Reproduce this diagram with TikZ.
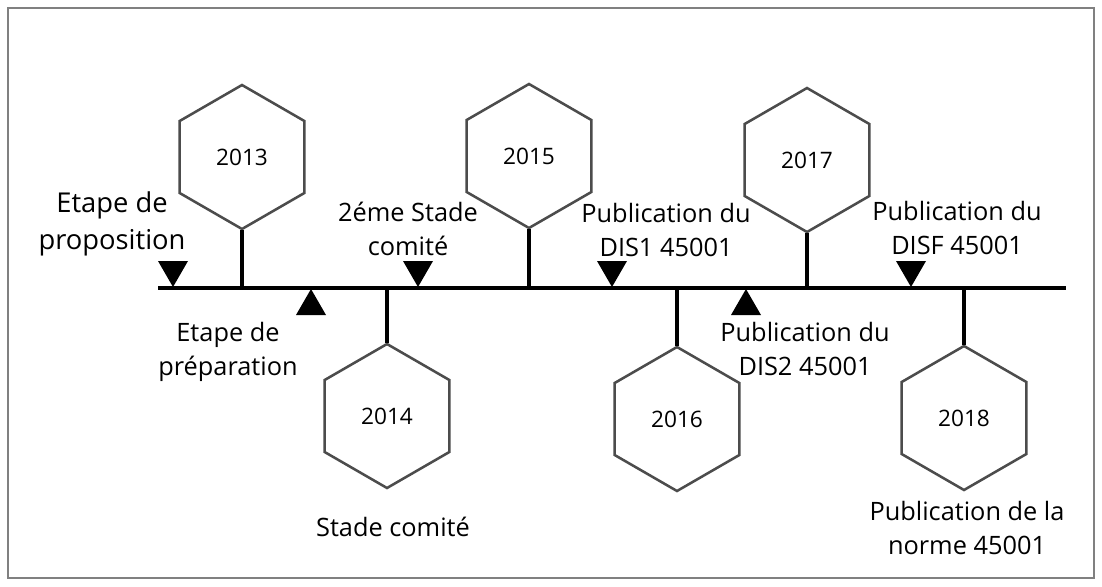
\documentclass[tikz,border=0pt]{standalone}
\usepackage{fontspec}
\setmainfont{Open Sans}
\usetikzlibrary{shapes.geometric}
\tikzset{
  hexa/.style={regular polygon, regular polygon sides=6, shape border rotate=30,
    minimum size=108pt, inner sep=0pt, draw=black!70, line width=1.9pt, fill=white,
    font=\fontsize{17}{20}\selectfont},
  stem/.style={line width=2.3pt, black},
  axis/.style={line width=2.6pt, black},
  lbl/.style={align=center, inner sep=0pt, font=\fontsize{19}{26}\selectfont},
  biglbl/.style={align=center, inner sep=0pt, font=\fontsize{20.5}{27.5}\selectfont},
  tri/.style={fill=black}
}
\begin{document}
\begin{tikzpicture}[x=0.75pt, y=-0.75pt]
  \useasboundingbox (0,0) rectangle (1102,586);
  % outer frame
  \draw[black!50, line width=0.9pt] (8,8) rectangle (1094,578);

  % main axis
  \coordinate (L) at (158,288);
  \coordinate (R) at (1066,288);
  \draw[axis] (L) -- (R);

  % year hexagons
  \node[hexa] (h13) at (242,157) {2013};
  \node[hexa] (h14) at (387,416) {2014};
  \node[hexa] (h15) at (529,156) {2015};
  \node[hexa] (h16) at (677,419) {2016};
  \node[hexa] (h17) at (807,160) {2017};
  \node[hexa] (h18) at (964,418) {2018};

  % stems joining hexagons to the axis
  \foreach \h in {h13,h15,h17}{
    \draw[stem] (\h.south) -- (\h.south |- L);
  }
  \foreach \h in {h14,h16,h18}{
    \draw[stem] (\h.north) -- (\h.north |- L);
  }

  % milestone markers above the axis (pointing down)
  \foreach \x in {173,418,612,911}{
    \fill[tri] (\x-15,261) -- (\x+15,261) -- (\x,287) -- cycle;
  }
  % milestone markers below the axis (pointing up)
  \foreach \x in {311,746}{
    \fill[tri] (\x-15,315) -- (\x+15,315) -- (\x,289) -- cycle;
  }

  % milestone labels
  \node[biglbl] (t1) at (112,224) {Etape de\\proposition};
  \node[lbl] (t2) at (228,352) {Etape de\\préparation};
  \node[lbl] (t3) at (408,229) {2éme Stade\\comité};
  \node[lbl] (t4) at (393,527) {Stade comité};
  \node[lbl] (t5) at (666,230) {Publication du\\DIS1 45001};
  \node[lbl] (t6) at (805,349) {Publication du\\DIS2 45001};
  \node[lbl] (t7) at (957,228) {Publication du\\DISF 45001};
  \node[lbl] (t8) at (967,528) {Publication de la\\norme 45001};
\end{tikzpicture}
\end{document}
